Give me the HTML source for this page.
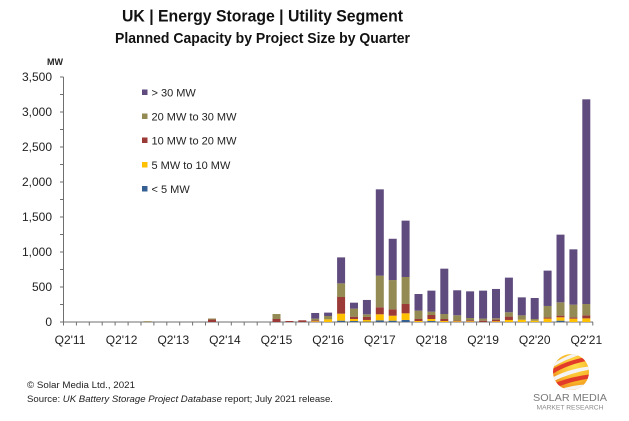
<!DOCTYPE html>
<html><head><meta charset="utf-8"><style>
html,body{margin:0;padding:0;background:#fff;}
svg{display:block;}
text{font-family:"Liberation Sans",sans-serif;}
</style></head><body>
<svg width="629" height="421" viewBox="0 0 629 421" xmlns="http://www.w3.org/2000/svg">
<rect width="629" height="421" fill="#fff"/>
<!-- titles -->
<text x="262.5" y="21.5" font-size="17" font-weight="bold" text-anchor="middle" fill="#111" textLength="281" lengthAdjust="spacingAndGlyphs">UK | Energy Storage | Utility Segment</text>
<text x="262.5" y="43" font-size="15" font-weight="bold" text-anchor="middle" fill="#111" textLength="295" lengthAdjust="spacingAndGlyphs">Planned Capacity by Project Size by Quarter</text>
<text x="47" y="65" font-size="9" font-weight="bold" fill="#222">MW</text>

<!-- y axis -->
<g stroke="#6f6f6f" stroke-width="1">
<line x1="63.5" y1="77" x2="63.5" y2="322"/>
<line x1="63.5" y1="322" x2="593" y2="322"/>
<line x1="60" y1="322" x2="63.5" y2="322"/>
<line x1="60" y1="304.5" x2="63.5" y2="304.5"/>
<line x1="60" y1="287" x2="63.5" y2="287"/>
<line x1="60" y1="269.5" x2="63.5" y2="269.5"/>
<line x1="60" y1="252" x2="63.5" y2="252"/>
<line x1="60" y1="234.5" x2="63.5" y2="234.5"/>
<line x1="60" y1="217" x2="63.5" y2="217"/>
<line x1="60" y1="199.5" x2="63.5" y2="199.5"/>
<line x1="60" y1="182" x2="63.5" y2="182"/>
<line x1="60" y1="164.5" x2="63.5" y2="164.5"/>
<line x1="60" y1="147" x2="63.5" y2="147"/>
<line x1="60" y1="129.5" x2="63.5" y2="129.5"/>
<line x1="60" y1="112" x2="63.5" y2="112"/>
<line x1="60" y1="94.5" x2="63.5" y2="94.5"/>
<line x1="60" y1="77" x2="63.5" y2="77"/>
</g>
<g font-size="12" fill="#222" text-anchor="end">
<text x="52" y="326">0</text>
<text x="52" y="291">500</text>
<text x="52" y="256">1,000</text>
<text x="52" y="221">1,500</text>
<text x="52" y="186">2,000</text>
<text x="52" y="151">2,500</text>
<text x="52" y="116">3,000</text>
<text x="52" y="81">3,500</text>
</g>

<!-- x ticks -->
<g stroke="#6f6f6f" stroke-width="1">
<line x1="63.5" y1="322" x2="63.5" y2="325.5"/><line x1="76.4" y1="322" x2="76.4" y2="325.5"/><line x1="89.3" y1="322" x2="89.3" y2="325.5"/><line x1="102.2" y1="322" x2="102.2" y2="325.5"/><line x1="115.1" y1="322" x2="115.1" y2="325.5"/><line x1="128.1" y1="322" x2="128.1" y2="325.5"/><line x1="141" y1="322" x2="141" y2="325.5"/><line x1="153.9" y1="322" x2="153.9" y2="325.5"/><line x1="166.8" y1="322" x2="166.8" y2="325.5"/><line x1="179.7" y1="322" x2="179.7" y2="325.5"/><line x1="192.6" y1="322" x2="192.6" y2="325.5"/><line x1="205.5" y1="322" x2="205.5" y2="325.5"/><line x1="218.4" y1="322" x2="218.4" y2="325.5"/><line x1="231.3" y1="322" x2="231.3" y2="325.5"/><line x1="244.2" y1="322" x2="244.2" y2="325.5"/><line x1="257.2" y1="322" x2="257.2" y2="325.5"/><line x1="270.1" y1="322" x2="270.1" y2="325.5"/><line x1="283" y1="322" x2="283" y2="325.5"/><line x1="295.9" y1="322" x2="295.9" y2="325.5"/><line x1="308.8" y1="322" x2="308.8" y2="325.5"/><line x1="321.7" y1="322" x2="321.7" y2="325.5"/><line x1="334.6" y1="322" x2="334.6" y2="325.5"/><line x1="347.5" y1="322" x2="347.5" y2="325.5"/><line x1="360.4" y1="322" x2="360.4" y2="325.5"/><line x1="373.3" y1="322" x2="373.3" y2="325.5"/><line x1="386.3" y1="322" x2="386.3" y2="325.5"/><line x1="399.2" y1="322" x2="399.2" y2="325.5"/><line x1="412.1" y1="322" x2="412.1" y2="325.5"/><line x1="425" y1="322" x2="425" y2="325.5"/><line x1="437.9" y1="322" x2="437.9" y2="325.5"/><line x1="450.8" y1="322" x2="450.8" y2="325.5"/><line x1="463.7" y1="322" x2="463.7" y2="325.5"/><line x1="476.6" y1="322" x2="476.6" y2="325.5"/><line x1="489.5" y1="322" x2="489.5" y2="325.5"/><line x1="502.4" y1="322" x2="502.4" y2="325.5"/><line x1="515.4" y1="322" x2="515.4" y2="325.5"/><line x1="528.3" y1="322" x2="528.3" y2="325.5"/><line x1="541.2" y1="322" x2="541.2" y2="325.5"/><line x1="554.1" y1="322" x2="554.1" y2="325.5"/><line x1="567" y1="322" x2="567" y2="325.5"/><line x1="579.9" y1="322" x2="579.9" y2="325.5"/><line x1="592.8" y1="322" x2="592.8" y2="325.5"/>
</g>
<g font-size="12" fill="#222" text-anchor="middle">
<text x="70" y="344">Q2'11</text>
<text x="121.6" y="344">Q2'12</text>
<text x="173.3" y="344">Q2'13</text>
<text x="224.9" y="344">Q2'14</text>
<text x="276.5" y="344">Q2'15</text>
<text x="328.1" y="344">Q2'16</text>
<text x="379.8" y="344">Q2'17</text>
<text x="431.4" y="344">Q2'18</text>
<text x="483.1" y="344">Q2'19</text>
<text x="534.7" y="344">Q2'20</text>
<text x="586.3" y="344">Q2'21</text>
</g>

<!-- bars: order blue, yellow, red, olive, purple -->
<defs>
<style>
.b{fill:#376092}.y{fill:#FFC000}.r{fill:#9B3A36}.o{fill:#948A54}.p{fill:#5F4B7E}
</style>
</defs>
<g transform="translate(147.4,322) scale(1,-0.07)"><rect class="o" x="-4" y="0" width="8" height="12"/></g>
<g transform="translate(212,322) scale(1,-0.07)"><rect class="r" x="-4" y="0" width="8" height="35"/><rect class="o" x="-4" y="35" width="8" height="15"/></g>
<g transform="translate(276.5,322) scale(1,-0.07)"><rect class="r" x="-4" y="0" width="8" height="43"/><rect class="o" x="-4" y="43" width="8" height="71"/></g>
<g transform="translate(289.4,322) scale(1,-0.07)"><rect class="r" x="-4" y="0" width="8" height="14"/></g>
<g transform="translate(302.3,322) scale(1,-0.07)"><rect class="r" x="-4" y="0" width="8" height="24"/></g>
<g transform="translate(315.2,322) scale(1,-0.07)"><rect class="y" x="-4" y="0" width="8" height="10"/><rect class="r" x="-4" y="10" width="8" height="14"/><rect class="o" x="-4" y="24" width="8" height="24"/><rect class="p" x="-4" y="48" width="8" height="81"/></g>
<g transform="translate(328.1,322) scale(1,-0.07)"><rect class="y" x="-4" y="0" width="8" height="38"/><rect class="o" x="-4" y="38" width="8" height="48"/><rect class="p" x="-4" y="86" width="8" height="48"/></g>
<g transform="translate(341.1,322) scale(1,-0.07)"><rect class="b" x="-4" y="0" width="8" height="19"/><rect class="y" x="-4" y="19" width="8" height="100"/><rect class="r" x="-4" y="119" width="8" height="238"/><rect class="o" x="-4" y="357" width="8" height="195"/><rect class="p" x="-4" y="552" width="8" height="371"/></g>
<g transform="translate(354,322) scale(1,-0.07)"><rect class="b" x="-4" y="0" width="8" height="14"/><rect class="y" x="-4" y="14" width="8" height="29"/><rect class="r" x="-4" y="43" width="8" height="33"/><rect class="o" x="-4" y="76" width="8" height="114"/><rect class="p" x="-4" y="190" width="8" height="86"/></g>
<g transform="translate(366.9,322) scale(1,-0.07)"><rect class="b" x="-4" y="0" width="8" height="5"/><rect class="y" x="-4" y="5" width="8" height="24"/><rect class="r" x="-4" y="29" width="8" height="43"/><rect class="o" x="-4" y="72" width="8" height="38"/><rect class="p" x="-4" y="110" width="8" height="205"/></g>
<g transform="translate(379.8,322) scale(1,-0.07)"><rect class="b" x="-4" y="0" width="8" height="24"/><rect class="y" x="-4" y="24" width="8" height="86"/><rect class="r" x="-4" y="110" width="8" height="100"/><rect class="o" x="-4" y="210" width="8" height="452"/><rect class="p" x="-4" y="662" width="8" height="1233"/></g>
<g transform="translate(392.7,322) scale(1,-0.07)"><rect class="b" x="-4" y="0" width="8" height="19"/><rect class="y" x="-4" y="19" width="8" height="71"/><rect class="r" x="-4" y="90" width="8" height="90"/><rect class="o" x="-4" y="180" width="8" height="419"/><rect class="p" x="-4" y="599" width="8" height="590"/></g>
<g transform="translate(405.6,322) scale(1,-0.07)"><rect class="b" x="-4" y="0" width="8" height="29"/><rect class="y" x="-4" y="29" width="8" height="95"/><rect class="r" x="-4" y="124" width="8" height="133"/><rect class="o" x="-4" y="257" width="8" height="386"/><rect class="p" x="-4" y="643" width="8" height="805"/></g>
<g transform="translate(418.5,322) scale(1,-0.07)"><rect class="y" x="-4" y="0" width="8" height="14"/><rect class="r" x="-4" y="14" width="8" height="29"/><rect class="o" x="-4" y="43" width="8" height="119"/><rect class="p" x="-4" y="162" width="8" height="238"/></g>
<g transform="translate(431.4,322) scale(1,-0.07)"><rect class="b" x="-4" y="0" width="8" height="14"/><rect class="y" x="-4" y="14" width="8" height="29"/><rect class="r" x="-4" y="43" width="8" height="57"/><rect class="o" x="-4" y="100" width="8" height="48"/><rect class="p" x="-4" y="148" width="8" height="300"/></g>
<g transform="translate(444.3,322) scale(1,-0.07)"><rect class="y" x="-4" y="0" width="8" height="14"/><rect class="r" x="-4" y="14" width="8" height="29"/><rect class="o" x="-4" y="43" width="8" height="71"/><rect class="p" x="-4" y="114" width="8" height="648"/></g>
<g transform="translate(457.2,322) scale(1,-0.07)"><rect class="y" x="-4" y="0" width="8" height="10"/><rect class="r" x="-4" y="10" width="8" height="10"/><rect class="o" x="-4" y="20" width="8" height="76"/><rect class="p" x="-4" y="96" width="8" height="357"/></g>
<g transform="translate(470.1,322) scale(1,-0.07)"><rect class="y" x="-4" y="0" width="8" height="10"/><rect class="r" x="-4" y="10" width="8" height="14"/><rect class="o" x="-4" y="24" width="8" height="33"/><rect class="p" x="-4" y="57" width="8" height="381"/></g>
<g transform="translate(483.1,322) scale(1,-0.07)"><rect class="r" x="-4" y="0" width="8" height="19"/><rect class="o" x="-4" y="19" width="8" height="29"/><rect class="p" x="-4" y="48" width="8" height="400"/></g>
<g transform="translate(496,322) scale(1,-0.07)"><rect class="y" x="-4" y="0" width="8" height="10"/><rect class="r" x="-4" y="10" width="8" height="24"/><rect class="o" x="-4" y="34" width="8" height="19"/><rect class="p" x="-4" y="53" width="8" height="419"/></g>
<g transform="translate(508.9,322) scale(1,-0.07)"><rect class="y" x="-4" y="0" width="8" height="29"/><rect class="r" x="-4" y="29" width="8" height="48"/><rect class="o" x="-4" y="77" width="8" height="62"/><rect class="p" x="-4" y="139" width="8" height="495"/></g>
<g transform="translate(521.8,322) scale(1,-0.07)"><rect class="y" x="-4" y="0" width="8" height="33"/><rect class="o" x="-4" y="33" width="8" height="62"/><rect class="p" x="-4" y="95" width="8" height="257"/></g>
<g transform="translate(534.7,322) scale(1,-0.07)"><rect class="y" x="-4" y="0" width="8" height="19"/><rect class="o" x="-4" y="19" width="8" height="24"/><rect class="p" x="-4" y="43" width="8" height="300"/></g>
<g transform="translate(547.6,322) scale(1,-0.07)"><rect class="y" x="-4" y="0" width="8" height="48"/><rect class="r" x="-4" y="48" width="8" height="19"/><rect class="o" x="-4" y="67" width="8" height="162"/><rect class="p" x="-4" y="229" width="8" height="505"/></g>
<g transform="translate(560.5,322) scale(1,-0.07)"><rect class="b" x="-4" y="0" width="8" height="19"/><rect class="y" x="-4" y="19" width="8" height="48"/><rect class="r" x="-4" y="67" width="8" height="24"/><rect class="o" x="-4" y="91" width="8" height="190"/><rect class="p" x="-4" y="281" width="8" height="967"/></g>
<g transform="translate(573.4,322) scale(1,-0.07)"><rect class="y" x="-4" y="0" width="8" height="48"/><rect class="r" x="-4" y="48" width="8" height="19"/><rect class="o" x="-4" y="67" width="8" height="181"/><rect class="p" x="-4" y="248" width="8" height="790"/></g>
<g transform="translate(586.3,322) scale(1,-0.07)"><rect class="y" x="-4" y="0" width="8" height="52"/><rect class="r" x="-4" y="52" width="8" height="43"/><rect class="o" x="-4" y="95" width="8" height="162"/><rect class="p" x="-4" y="257" width="8" height="2924"/></g>

<!-- legend -->
<rect class="p" x="142" y="89.5" width="5.5" height="5.5"/>
<rect class="o" x="142" y="113.5" width="5.5" height="5.5"/>
<rect class="r" x="142" y="137.5" width="5.5" height="5.5"/>
<rect class="y" x="142" y="162" width="5.5" height="5.5"/>
<rect class="b" x="142" y="186" width="5.5" height="5.5"/>
<g font-size="11" fill="#222">
<text x="151.5" y="96.3">&gt; 30 MW</text>
<text x="151.5" y="120.3">20 MW to 30 MW</text>
<text x="151.5" y="144.5">10 MW to 20 MW</text>
<text x="151.5" y="169">5 MW to 10 MW</text>
<text x="151.5" y="193">&lt; 5 MW</text>
</g>

<!-- footer -->
<text x="27" y="388" font-size="9" fill="#222" textLength="108" lengthAdjust="spacingAndGlyphs">© Solar Media Ltd., 2021</text>
<text x="27" y="402" font-size="9" fill="#222" textLength="306" lengthAdjust="spacingAndGlyphs">Source: <tspan font-style="italic">UK Battery Storage Project Database</tspan> report; July 2021 release.</text>

<!-- logo -->
<defs>
<radialGradient id="sg" cx="0.6" cy="0.3" r="0.8">
<stop offset="0" stop-color="#ffe04a"/>
<stop offset="0.6" stop-color="#f8b428"/>
<stop offset="1" stop-color="#ee7d1c"/>
</radialGradient>
<clipPath id="sc"><circle cx="571" cy="372" r="18"/></clipPath>
</defs>
<circle cx="571" cy="372" r="18" fill="url(#sg)"/>
<g clip-path="url(#sc)">
<path d="M548 372 Q565 360 592 356 L592 360 Q566 364 548 377Z" fill="#e23b2a"/>
<path d="M548 380 Q568 368 594 366 L594 369 Q570 372 548 384Z" fill="#f4f4f4"/>
<path d="M548 386 Q570 376 594 374 L594 378 Q572 380 548 391Z" fill="#e23b2a"/>
<path d="M550 366 Q566 354 590 349 L590 352 Q566 358 550 369Z" fill="#f4f4f4"/>
<path d="M552 358 Q566 350 586 344 L586 347 Q566 353 552 361Z" fill="#e23b2a"/>
<path d="M552 392 Q572 384 594 384 L594 387 Q572 388 552 396Z" fill="#f4f4f4"/>
</g>
<text x="570" y="401" font-size="10.5" fill="#7a7a7a" text-anchor="middle" textLength="74" lengthAdjust="spacingAndGlyphs">SOLAR MEDIA</text>
<text x="570" y="409.5" font-size="6" fill="#8a8a8a" text-anchor="middle" textLength="67" lengthAdjust="spacingAndGlyphs">MARKET RESEARCH</text>
</svg>
</body></html>
